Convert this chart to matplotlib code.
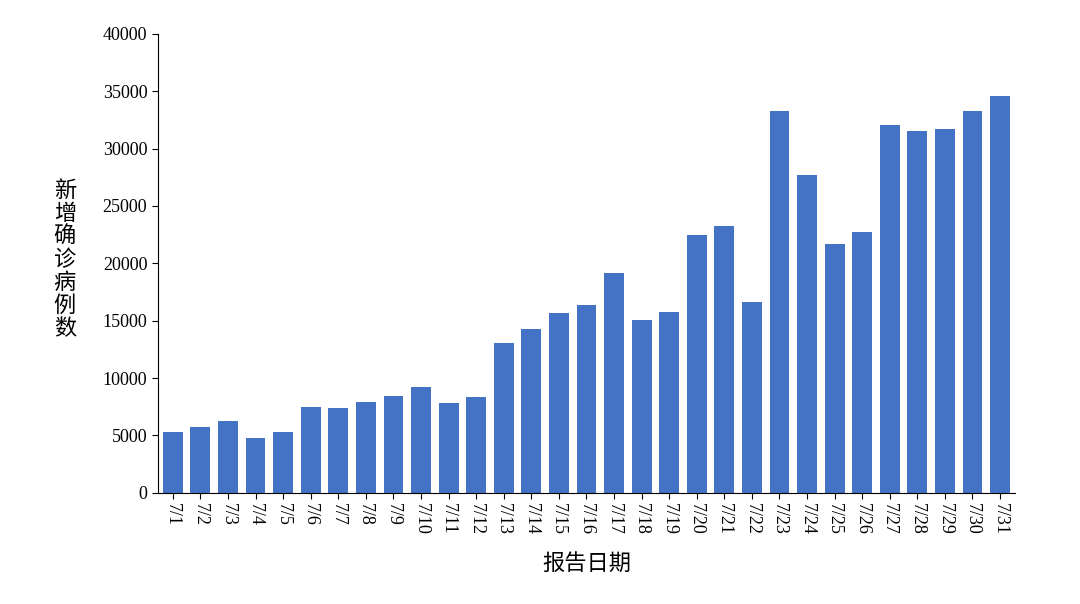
import matplotlib
matplotlib.use("Agg")
import matplotlib.pyplot as plt

dates = [f"7/{i}" for i in range(1, 32)]
cases = [5300, 5750, 6270, 4790, 5300, 7490, 7400, 7930, 8450, 9240, 7840, 8370,
         13070, 14290, 15690, 16380, 19170, 15080, 15770, 22480, 23270, 16640,
         33290, 27710, 21700, 22750, 32070, 31550, 31720, 33290, 34600]
yticks = list(range(0, 40001, 5000))

plt.rcParams['font.family'] = ['Liberation Serif', 'Noto Sans CJK SC', 'DejaVu Sans']
fig = plt.figure(figsize=(10.8, 6.04), dpi=100)
ax = fig.add_axes([0.146, 0.184, 0.794, 0.76])
x = list(range(len(dates)))
ax.bar(x, cases, width=0.72, color='#4472C4')
ax.set_xlim(-0.55, len(dates) - 0.45)
ax.set_ylim(0, 40000)
ax.set_yticks(yticks)
ax.set_yticklabels([str(v) for v in yticks], fontsize=13)
ax.set_xticks(x)
ax.set_xticklabels(dates, rotation=-90, fontsize=13)
for s in ['top', 'right']:
    ax.spines[s].set_visible(False)
ax.tick_params(direction='out', length=4)
ax.set_xlabel('报告日期', fontsize=16, family=['Noto Sans CJK SC'], labelpad=12)
fig.text(0.06, 0.57, '\n'.join('新增确诊病例数'), fontsize=16, family=['Noto Sans CJK SC'],
         va='center', ha='center', linespacing=1.0)
fig.savefig('out.png', dpi=100, facecolor='white')
